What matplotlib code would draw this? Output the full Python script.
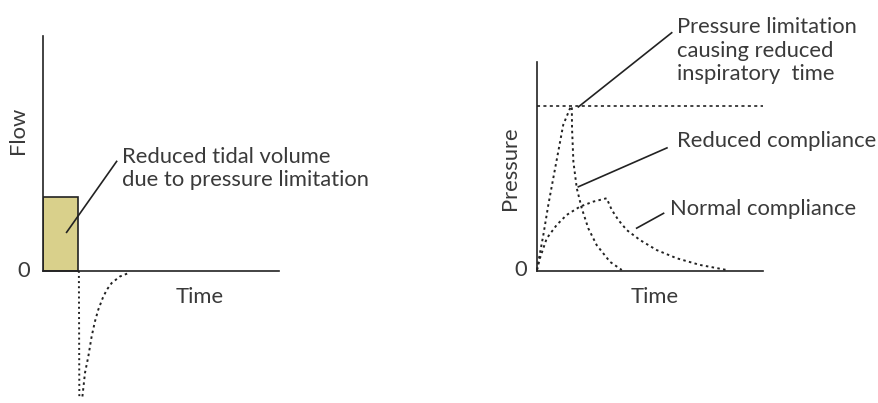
import matplotlib
matplotlib.use("Agg")
import matplotlib.pyplot as plt

plt.rcParams['font.family'] = ['Lato', 'DejaVu Sans']
plt.rcParams['lines.scale_dashes'] = False

TXT = '#3a3a3a'
INK = '#222222'
FS = 15.8

# ---------------- data ----------------
# Left panel: flow vs time
bar_time = 1.5          # duration of inspiratory flow (reduced)
bar_flow = 3.15         # inspiratory flow level
exp_vert_t = [1.52, 1.54]
exp_vert_f = [0.0, -5.35]
exp_curve_t = [1.67, 1.78, 1.92, 2.06, 2.20, 2.34, 2.53, 2.70, 2.91, 3.26, 3.61]
exp_curve_f = [-5.35, -4.34, -3.65, -2.80, -2.16, -1.66, -1.16, -0.81, -0.52, -0.24, -0.10]

# Right panel: pressure vs time
p_limit = 7.88
red_t = [0.0, 0.06, 0.28, 0.50, 0.72, 0.94, 1.16, 1.46, 1.54,
         1.55, 1.61, 1.76, 1.98, 2.27, 2.64, 3.23, 3.75]
red_p = [0.05, 0.44, 1.72, 3.16, 4.44, 5.71, 6.99, 7.78, 7.88,
         6.83, 5.23, 3.96, 3.00, 2.04, 1.24, 0.44, 0.05]
norm_t = [0.0, 0.13, 0.43, 0.87, 1.31, 1.90, 2.49, 3.08,
          3.31, 3.60, 3.97, 4.56, 5.30, 6.18, 7.21, 8.39]
norm_p = [0.05, 0.61, 1.56, 2.20, 2.68, 3.08, 3.32, 3.48,
          2.92, 2.44, 1.96, 1.48, 1.00, 0.61, 0.29, 0.05]

W, H = 879, 403
fig = plt.figure(figsize=(W / 100, H / 100), dpi=100)


def px_axes(x0, x1, ytop, ybot):
    return fig.add_axes([x0 / W, 1 - ybot / H, (x1 - x0) / W, (ybot - ytop) / H])


def style(ax):
    for s in ['top', 'right']:
        ax.spines[s].set_visible(False)
    for s in ['left', 'bottom']:
        ax.spines[s].set_color(INK)
        ax.spines[s].set_linewidth(1.2)
    ax.set_xticks([])
    ax.set_yticks([])
    ax.patch.set_alpha(0)


# ---------------- left panel ----------------
axL = px_axes(43, 279, 36, 400)
axL.set_xlim(0, 10)
axL.set_ylim(-5.5, 10)
style(axL)
axL.spines['left'].set_bounds(0, 10)
axL.spines['bottom'].set_position(('data', 0))

axL.bar([0], [bar_flow], width=bar_time, align='edge', color='#d9d08b',
        edgecolor=INK, linewidth=1.2, zorder=2)
axL.plot(exp_vert_t, exp_vert_f, color=INK, lw=1.4, ls=(0, (1.4, 2.3)), clip_on=False)
axL.plot(exp_curve_t, exp_curve_f, color=INK, lw=1.4, ls=(0, (1.8, 2.4)), clip_on=False)

axL.text(-1.06, 6.0, 'Flow', rotation=90, ha='center', va='center', fontsize=FS, color=TXT)
axL.text(-0.8, 0.0, '0', ha='center', va='center', fontsize=FS, color=TXT)
axL.text(6.65, -1.1, 'Time', ha='center', va='center', fontsize=FS, color=TXT)
axL.text(3.35, 3.62, 'Reduced tidal volume\ndue to pressure limitation', ha='left',
         va='baseline', fontsize=FS, color=TXT, linespacing=1.2)
axL.plot([1.0, 3.12], [1.64, 4.66], color=INK, lw=1.2, zorder=3)

# ---------------- right panel ----------------
axR = px_axes(537, 763, 62, 271)
axR.set_xlim(0, 10)
axR.set_ylim(0, 10)
style(axR)

axR.plot([0, 10], [p_limit, p_limit], color=INK, lw=1.2, ls=(0, (2.2, 2.4)), clip_on=False)
axR.plot(red_t, red_p, color=INK, lw=1.4, ls=(0, (1.8, 2.4)), clip_on=False)
axR.plot(norm_t, norm_p, color=INK, lw=1.4, ls=(0, (1.8, 2.4)), clip_on=False)

axR.text(-1.19, 4.93, 'Pressure', rotation=90, ha='center', va='center', fontsize=FS, color=TXT)
axR.text(-0.71, 0.05, '0', ha='center', va='center', fontsize=FS, color=TXT)
axR.text(5.22, -1.24, 'Time', ha='center', va='center', fontsize=FS, color=TXT)

axR.text(6.19, 9.15, 'Pressure limitation\ncausing reduced\ninspiratory  time', ha='left',
         va='baseline', fontsize=FS, color=TXT, linespacing=1.2)
axR.plot([1.83, 5.96], [7.85, 11.40], color=INK, lw=1.2, clip_on=False)

axR.text(6.19, 5.93, 'Reduced compliance', ha='left', va='baseline', fontsize=FS, color=TXT)
axR.plot([1.83, 5.75], [4.03, 5.89], color=INK, lw=1.2, clip_on=False)

axR.text(5.88, 2.68, 'Normal compliance', ha='left', va='baseline', fontsize=FS, color=TXT)
axR.plot([4.41, 5.60], [2.05, 2.76], color=INK, lw=1.2, clip_on=False)

fig.savefig('out.png', dpi=100)
